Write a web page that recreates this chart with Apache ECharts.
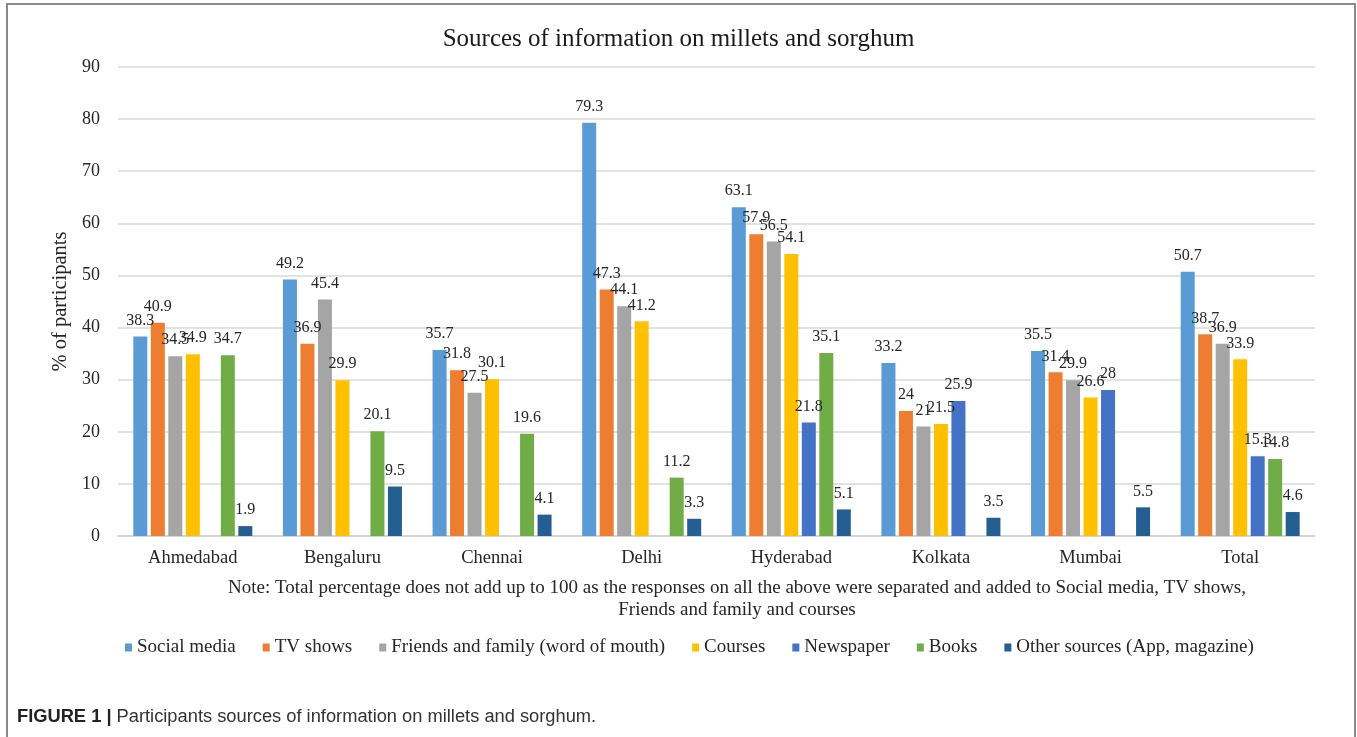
<!DOCTYPE html>
<html>
<head>
<meta charset="utf-8">
<title>Sources of information on millets and sorghum</title>
<script src="https://cdn.jsdelivr.net/npm/echarts@6/dist/echarts.min.js"></script>
<style>
  html, body { margin: 0; padding: 0; background: #ffffff; }
  #chart { width: 1357px; height: 737px; }
</style>
</head>
<body>
<div id="chart"></div>
<script>
// Cities surveyed plus the overall total
const cities = ['Ahmedabad', 'Bengaluru', 'Chennai', 'Delhi', 'Hyderabad', 'Kolkata', 'Mumbai', 'Total'];

// % of participants naming each source (null = not reported)
const socialMedia = [38.3, 49.2, 35.7, 79.3, 63.1, 33.2, 35.5, 50.7];
const tvShows     = [40.9, 36.9, 31.8, 47.3, 57.9, 24, 31.4, 38.7];
const friends     = [34.5, 45.4, 27.5, 44.1, 56.5, 21, 29.9, 36.9];
const courses     = [34.9, 29.9, 30.1, 41.2, 54.1, 21.5, 26.6, 33.9];
const newspaper   = [null, null, null, null, 21.8, 25.9, 28, 15.3];
const books       = [34.7, 20.1, 19.6, 11.2, 35.1, null, null, 14.8];
const otherSrc    = [1.9, 9.5, 4.1, 3.3, 5.1, 3.5, 5.5, 4.6];

const yTicks = { min: 0, max: 90, interval: 10 };

const seriesDefs = [
  { name: 'Social media', data: socialMedia, color: '#5B9BD5' },
  { name: 'TV shows', data: tvShows, color: '#ED7D31' },
  { name: 'Friends and family (word of mouth)', data: friends, color: '#A5A5A5' },
  { name: 'Courses', data: courses, color: '#FFC000' },
  { name: 'Newspaper', data: newspaper, color: '#4472C4' },
  { name: 'Books', data: books, color: '#70AD47' },
  { name: 'Other sources (App, magazine)', data: otherSrc, color: '#255E91' }
];

const serif = '"Liberation Serif", "DejaVu Serif", serif';
const sans = '"Liberation Sans", Arial, sans-serif';
const textColor = '#262626';

const chart = echarts.init(document.getElementById('chart'), null, { renderer: 'canvas' });

chart.setOption({
  animation: false,
  backgroundColor: '#ffffff',
  title: {
    text: 'Sources of information on millets and sorghum',
    left: 'center',
    top: 22,
    textStyle: { fontFamily: serif, fontSize: 25, fontWeight: 'normal', color: '#1a1a1a' }
  },
  legend: {
    top: 633,
    left: 120,
    itemWidth: 7,
    itemHeight: 8,
    itemGap: 27,
    icon: 'rect',
    textStyle: { fontFamily: serif, fontSize: 19, color: textColor },
    data: seriesDefs.map(s => s.name)
  },
  grid: { left: 118, right: 42, top: 67, bottom: 201 },
  xAxis: {
    type: 'category',
    data: cities,
    axisTick: { show: false },
    axisLine: { lineStyle: { color: '#d0d0d0', width: 1.5 } },
    axisLabel: { fontFamily: serif, fontSize: 18.5, color: textColor, margin: 13 }
  },
  yAxis: {
    type: 'value',
    min: yTicks.min,
    max: yTicks.max,
    interval: yTicks.interval,
    name: '% of participants',
    nameLocation: 'middle',
    nameGap: 39,
    nameTextStyle: { fontFamily: serif, fontSize: 20.5, color: textColor },
    axisLine: { show: false },
    axisTick: { show: false },
    axisLabel: { fontFamily: serif, fontSize: 18, color: textColor, margin: 18 },
    splitLine: { lineStyle: { color: '#d9d9d9', width: 1.5 } }
  },
  series: seriesDefs.map(s => ({
    name: s.name,
    type: 'bar',
    data: s.data,
    barWidth: 14,
    barGap: '25%',
    itemStyle: { color: s.color },
    label: {
      show: true,
      position: 'top',
      distance: 8,
      fontFamily: serif,
      fontSize: 16,
      color: textColor
    }
  })),
  graphic: [
    {
      type: 'rect',
      shape: { x: 7, y: 4, width: 1348, height: 760 },
      style: { fill: 'none', stroke: '#8a8a8a', lineWidth: 2 },
      silent: true
    },
    {
      type: 'text',
      x: 737, y: 588,
      style: {
        text: 'Note: Total percentage does not add up to 100 as the responses on all the above were separated and added to Social media, TV shows,',
        fontFamily: serif, fontSize: 19, fill: textColor, align: 'center', verticalAlign: 'middle'
      }
    },
    {
      type: 'text',
      x: 737, y: 610,
      style: {
        text: 'Friends and family and courses',
        fontFamily: serif, fontSize: 19, fill: textColor, align: 'center', verticalAlign: 'middle'
      }
    },
    {
      type: 'text',
      x: 17, y: 717,
      style: {
        rich: {
          b: { fontFamily: sans, fontSize: 18.3, fontWeight: 'bold', fill: '#222222' },
          n: { fontFamily: sans, fontSize: 18.3, fill: '#333333' }
        },
        text: '{b|FIGURE 1 |}{n| Participants sources of information on millets and sorghum.}',
        verticalAlign: 'middle'
      }
    }
  ]
});
</script>
</body>
</html>
